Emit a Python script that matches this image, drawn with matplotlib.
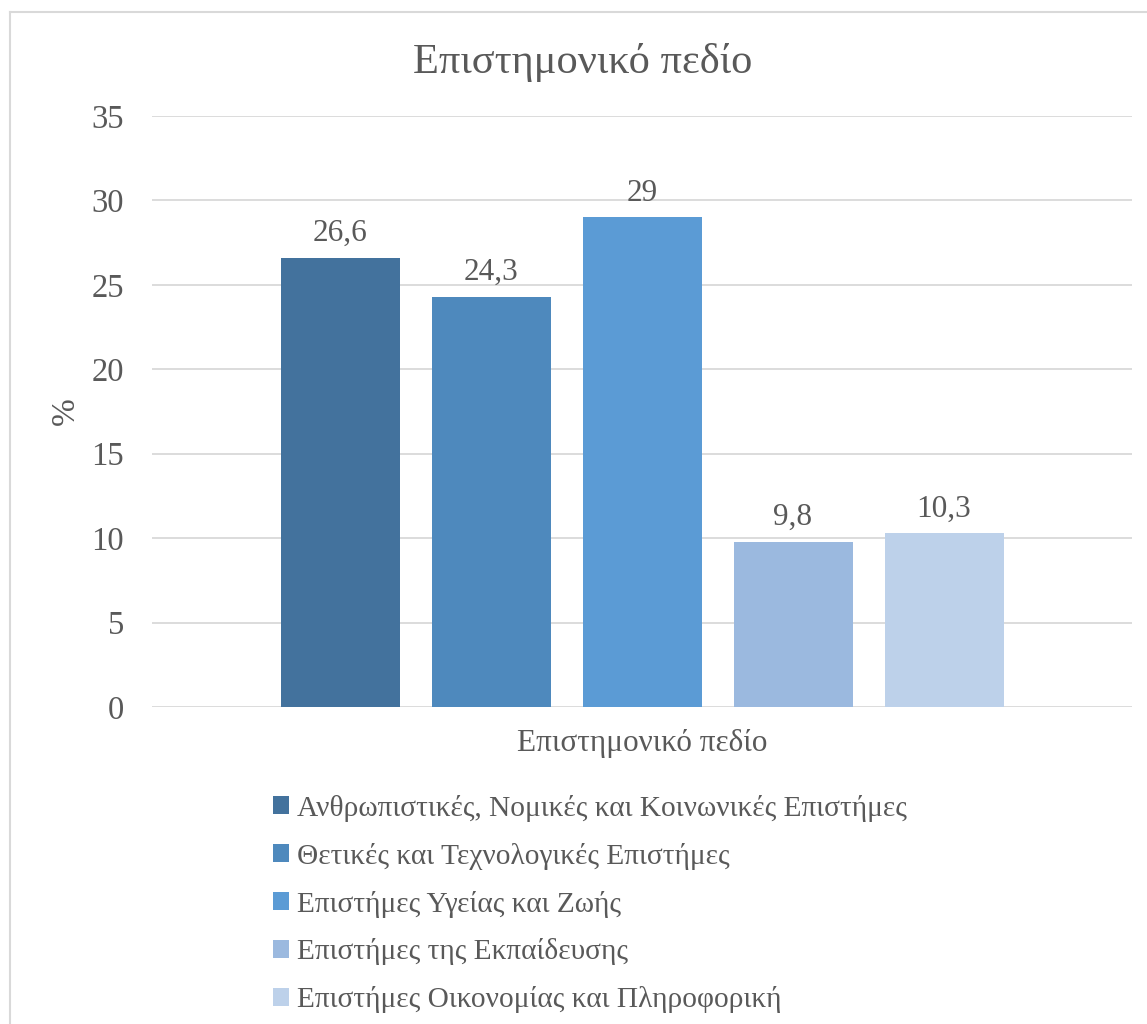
import matplotlib
matplotlib.use("Agg")
import matplotlib.pyplot as plt
from matplotlib.lines import Line2D

plt.rcParams['font.family'] = ['Liberation Serif', 'DejaVu Serif']

# data
categories = ['Ανθρωπιστικές, Νομικές και Κοινωνικές Επιστήμες',
              'Θετικές και Τεχνολογικές Επιστήμες',
              'Επιστήμες Υγείας και Ζωής',
              'Επιστήμες της Εκπαίδευσης',
              'Επιστήμες Οικονομίας και Πληροφορική']
values = [26.6, 24.3, 29, 9.8, 10.3]
colors = ['#43729d', '#4e89bd', '#5b9bd5', '#9bb9df', '#bdd1ea']
yticks = [0, 5, 10, 15, 20, 25, 30, 35]

text_col = '#595959'
grid_col = '#d9d9d9'

W, H = 1147, 1024
fig = plt.figure(figsize=(W / 100, H / 100), dpi=100)

# outer chart frame
fig.add_artist(Line2D([10 / W, 10 / W], [0, 1 - 12 / H], transform=fig.transFigure,
                      color=grid_col, lw=1.5))
fig.add_artist(Line2D([10 / W, 1], [1 - 12 / H, 1 - 12 / H], transform=fig.transFigure,
                      color=grid_col, lw=1.5))

ax = fig.add_axes([152 / W, (H - 707) / H, 980 / W, (707 - 116) / H])

step = 151
xs = [(i - 2) * step for i in range(len(values))]
bars = []
for x, v, c, lab in zip(xs, values, colors, categories):
    b = ax.bar(x, v, width=119, color=c, label=lab, zorder=3)
    bars.append(b)
    ax.annotate(('%g' % v).replace('.', ','), (x, v), xytext=(0, 7),
                textcoords='offset points', ha='center', va='bottom',
                fontsize=22.5, color=text_col)

ax.set_xlim(-490, 490)
ax.set_ylim(0, 35)
ax.set_yticks(yticks)
ax.set_yticklabels([str(t) for t in yticks], fontsize=23.5, color=text_col)
ax.set_xticks([])
ax.tick_params(axis='y', length=0, pad=20)
ax.grid(axis='y', color=grid_col, lw=1.3, zorder=0)
for s in ax.spines.values():
    s.set_visible(False)

ax.set_ylabel('%', fontsize=24, color=text_col, labelpad=8)
ax.set_xlabel('Επιστημονικό πεδίο', fontsize=22.5, color=text_col, labelpad=16)

fig.text(0.508, 1 - 62 / H, 'Επιστημονικό πεδίο', ha='center', va='center',
         fontsize=30.5, color=text_col)

handles = [b.patches[0] for b in bars]
fig.legend(handles, categories, loc='upper left',
           bbox_to_anchor=(258 / W, 1 - 780 / H), frameon=False,
           fontsize=21.2, labelcolor=text_col, handlelength=0.55, handleheight=0.55,
           handletextpad=0.28, labelspacing=0.71, borderpad=0)

fig.savefig('out.png', dpi=100, facecolor='white')
